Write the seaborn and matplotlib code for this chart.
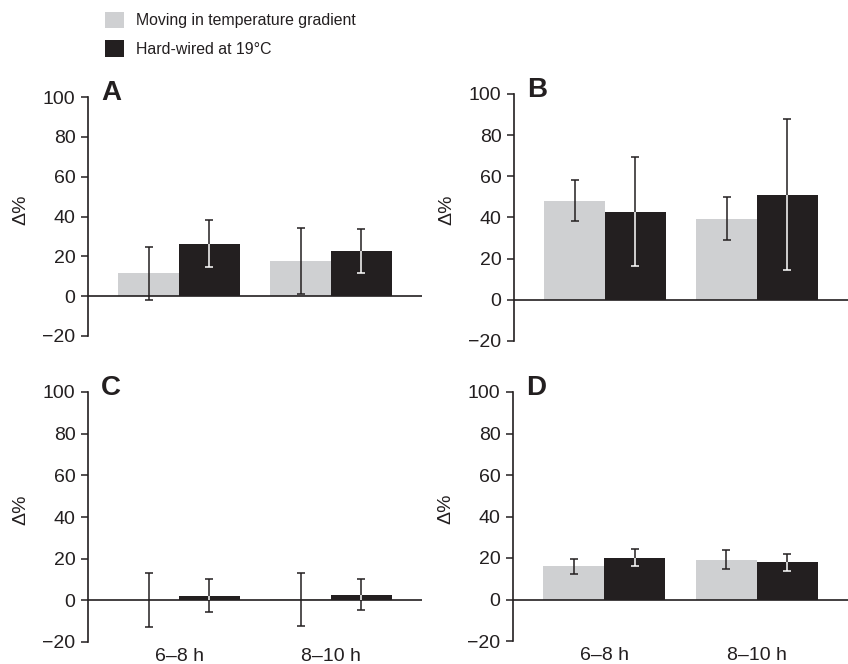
import pandas as pd
import numpy as np
import matplotlib.pyplot as plt
import seaborn as sns
from matplotlib.patches import Patch

# categories
periods = ['6–8 h', '8–10 h']
conditions = ['Moving in temperature gradient', 'Hard-wired at 19°C']
panel_names = ['A', 'B', 'C', 'D']

# means and error (half-length), per panel, [6-8 h, 8-10 h]
moving_mean = {'A': [11.5, 17.7], 'B': [48.1, 39.4], 'C': [0.0, 0.6], 'D': [16.0, 19.2]}
moving_err = {'A': [13.2, 16.4], 'B': [10.0, 10.5], 'C': [12.9, 12.7], 'D': [3.5, 4.6]}
wired_mean = {'A': [26.4, 22.6], 'B': [42.8, 51.1], 'C': [2.3, 2.8], 'D': [20.2, 17.9]}
wired_err = {'A': [11.7, 11.0], 'B': [26.6, 36.8], 'C': [8.0, 7.6], 'D': [4.0, 4.0]}

yticks = [-20, 0, 20, 40, 60, 80, 100]

light = '#cfd0d2'
dark = '#231f20'

sns.set_style('white')
plt.rcParams['font.family'] = ['Liberation Sans', 'DejaVu Sans']

fig = plt.figure(figsize=(8.48, 6.64), dpi=100)
W, H = 848, 664

# axes boxes in pixels: left, bottom(-20), right, top(100)
boxes = {'A': (88, 336, 422, 97), 'B': (514, 341, 848, 94),
         'C': (88, 642, 422, 392), 'D': (513, 641, 848, 392)}

for name in panel_names:
    l, b, r, t = boxes[name]
    ax = fig.add_axes([l / W, 1 - b / H, (r - l) / W, (b - t) / H])

    df = pd.DataFrame({
        'period': periods * 2,
        'condition': [conditions[0]] * 2 + [conditions[1]] * 2,
        'value': moving_mean[name] + wired_mean[name],
        'err': moving_err[name] + wired_err[name],
    })
    sns.barplot(data=df, x='period', y='value', hue='condition', order=periods,
                hue_order=conditions, palette=[light, dark], errorbar=None,
                width=0.8, saturation=1, linewidth=0, legend=False, ax=ax)

    # error bars: black, but white where they sit inside the dark bar
    bar_conts = list(ax.containers)
    for k, cont in enumerate(bar_conts):
        sub = df[df['condition'] == conditions[k]]
        for bar, (_, row) in zip(cont.patches, sub.iterrows()):
            xc = bar.get_x() + bar.get_width() / 2
            ax.errorbar(xc, row['value'], yerr=row['err'], color=dark,
                        capsize=3.2, elinewidth=1.1, capthick=1.1, zorder=4)
            if k == 1:
                eb = ax.errorbar(xc, row['value'], yerr=row['err'], color='white',
                                 capsize=3.2, elinewidth=1.1, capthick=1.1, zorder=5)
                for art in list(eb.lines[1]) + list(eb.lines[2]):
                    art.set_clip_path(bar)

    ax.axhline(0, color=dark, lw=1.2, zorder=3)
    ax.set_xlim(-0.6, 1.6)
    ax.set_ylim(-20, 100)
    ax.set_yticks(yticks)
    ax.set_yticklabels([str(v).replace('-', '−') for v in yticks], fontsize=14, color=dark)
    ax.tick_params(axis='y', length=5, width=1.1, color=dark, pad=4, left=True)
    for s in ['top', 'right', 'bottom']:
        ax.spines[s].set_visible(False)
    ax.spines['left'].set_color(dark)
    ax.spines['left'].set_linewidth(1.2)

    if name in ('C', 'D'):
        ax.set_xticks([0, 1])
        ax.set_xticklabels(periods, fontsize=14, color=dark)
        ax.tick_params(axis='x', length=0, pad=4)
    else:
        ax.set_xticks([])
    ax.set_xlabel('')
    ax.set_ylabel('Δ%', fontsize=14, color=dark)
    ax.yaxis.set_label_coords(-0.175, 0.53)
    ax.text(0.04, 1.015, name, transform=ax.transAxes, fontsize=20, fontweight='bold',
            va='center', ha='left', color=dark)

handles = [Patch(facecolor=light, edgecolor='none'), Patch(facecolor=dark, edgecolor='none')]
fig.legend(handles, conditions, loc='upper left', bbox_to_anchor=(105 / W, 1 - 12 / H),
           frameon=False, fontsize=11.4, handlelength=1.2, handleheight=1.2,
           handletextpad=0.76, labelspacing=0.76, borderpad=0, borderaxespad=0,
           labelcolor=dark)

fig.savefig('out.png', dpi=100)
